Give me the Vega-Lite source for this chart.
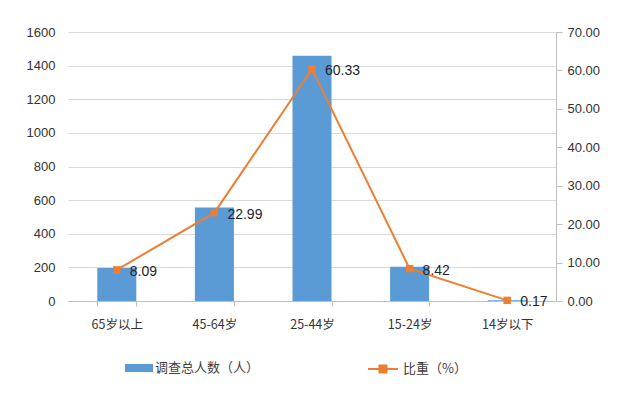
{
  "$schema": "https://vega.github.io/schema/vega-lite/v6.json",
  "width": 488,
  "height": 269,
  "autosize": "none",
  "padding": {"left": 68, "top": 32, "right": 84, "bottom": 95},
  "background": "white",
  "config": {
    "font": "Noto Sans CJK SC",
    "view": {"stroke": null},
    "axis": {"labelFont": "Liberation Sans", "labelColor": "#333333", "labelFontSize": 13}
  },
  "data": {
    "values": [
      {"cat": "65岁以上", "count": 196, "pct": 8.09},
      {"cat": "45-64岁", "count": 556, "pct": 22.99},
      {"cat": "25-44岁", "count": 1458, "pct": 60.33},
      {"cat": "15-24岁", "count": 204, "pct": 8.42},
      {"cat": "14岁以下", "count": 4, "pct": 0.17}
    ]
  },
  "encoding": {
    "x": {
      "field": "cat",
      "type": "nominal",
      "sort": null,
      "scale": {"paddingInner": 0.6, "paddingOuter": 0.3},
      "axis": {
        "title": null,
        "labelAngle": 0,
        "tickBand": "extent",
        "domainColor": "#BFBFBF",
        "tickColor": "#BFBFBF",
        "tickSize": 5,
        "labelPadding": 12,
        "labelFontSize": 12.5,
        "labelFont": "Noto Sans CJK SC"
      }
    }
  },
  "layer": [
    {
      "mark": {"type": "bar", "fill": "#5B9BD5"},
      "encoding": {
        "y": {
          "field": "count",
          "type": "quantitative",
          "scale": {"domain": [0, 1600]},
          "axis": {
            "title": null,
            "values": [0, 200, 400, 600, 800, 1000, 1200, 1400, 1600],
            "format": "d",
            "domain": false,
            "ticks": false,
            "labelPadding": 13,
            "gridColor": "#D9D9D9",
            "gridWidth": 1
          }
        },
        "fill": {
          "datum": "调查总人数（人）",
          "scale": {"range": ["#5B9BD5"]},
          "legend": {
            "title": null,
            "orient": "none",
            "legendX": 61,
            "legendY": 326,
            "symbolType": "M-1.4,-0.4H1.4V0.4H-1.4Z",
            "symbolSize": 400,
            "symbolStrokeWidth": 0,
            "labelOffset": 6,
            "labelFontSize": 13,
            "labelColor": "#404040",
            "labelFont": "Noto Sans CJK SC"
          }
        }
      }
    },
    {
      "encoding": {
        "y": {
          "field": "pct",
          "type": "quantitative",
          "scale": {"domain": [0, 70]},
          "axis": {
            "title": null,
            "orient": "right",
            "values": [0, 10, 20, 30, 40, 50, 60, 70],
            "format": ".2f",
            "grid": false,
            "domainColor": "#BFBFBF",
            "tickColor": "#BFBFBF",
            "tickSize": 6,
            "labelPadding": 5
          }
        }
      },
      "layer": [
        {
          "mark": {"type": "line", "strokeWidth": 2},
          "encoding": {
            "stroke": {
              "datum": "比重（%）",
              "scale": {"range": ["#ED7D31"]},
              "legend": {
                "title": null,
                "orient": "none",
                "legendX": 304,
                "legendY": 326,
                "symbolType": "M-1.5,0H1.5M-0.35,-0.35H0.35V0.35H-0.35Z",
                "symbolSize": 400,
                "symbolStrokeWidth": 2,
                "symbolFillColor": "#ED7D31",
                "labelOffset": 9,
                "labelFontSize": 13,
                "labelColor": "#404040",
                "labelFont": "Noto Sans CJK SC"
              }
            }
          }
        },
        {
          "mark": {"type": "point", "shape": "square", "filled": true, "size": 55, "color": "#ED7D31", "opacity": 1}
        },
        {
          "mark": {"type": "text", "align": "left", "baseline": "middle", "dx": 13, "dy": 2, "fontSize": 14, "color": "#1F1F2F", "font": "Liberation Sans"},
          "encoding": {"text": {"field": "pct", "type": "quantitative", "format": ".2f"}}
        }
      ]
    }
  ],
  "resolve": {"scale": {"y": "independent", "fill": "independent", "stroke": "independent"}}
}
